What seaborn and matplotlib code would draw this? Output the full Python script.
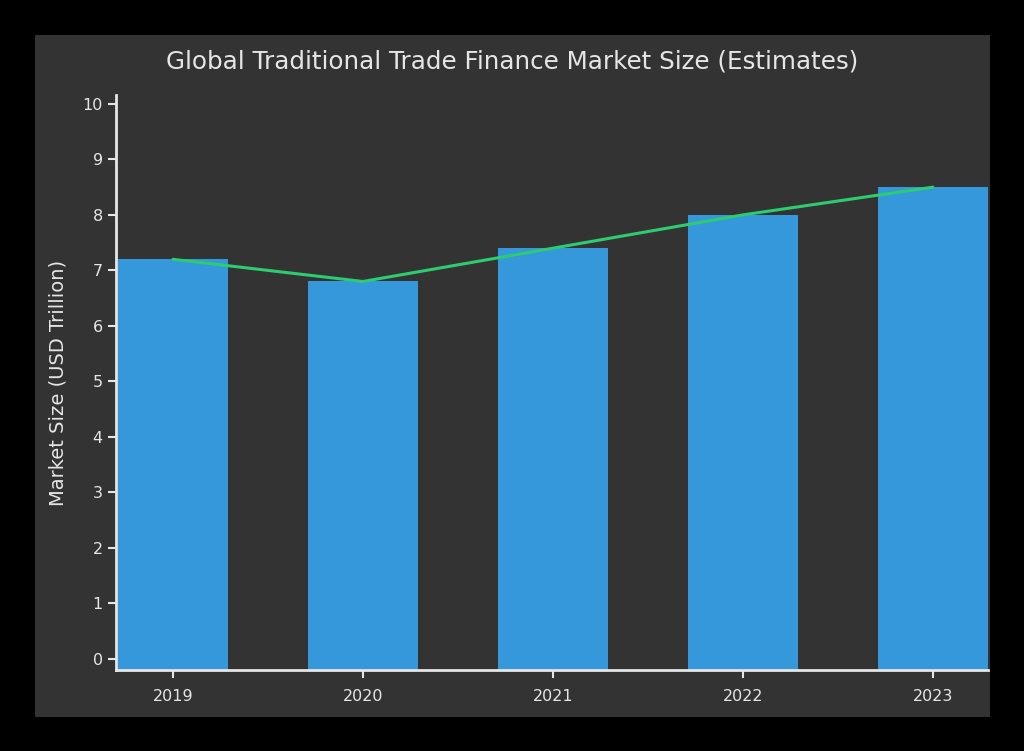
import matplotlib
matplotlib.use("Agg")
import matplotlib.pyplot as plt
import seaborn as sns
import pandas as pd

years = ["2019", "2020", "2021", "2022", "2023"]
market_size = [7.2, 6.8, 7.4, 8.0, 8.5]

df = pd.DataFrame({"year": years, "size": market_size})

sns.set_style("dark")
plt.rcParams['font.family'] = ['DejaVu Sans']
txt = "#e6e6e6"

fig = plt.figure(figsize=(10.24, 7.51), dpi=100, facecolor="black")

# grey card behind the chart
bg = fig.add_axes([35 / 1024, 1 - 717 / 751, 955 / 1024, 682 / 751], zorder=0)
bg.set_facecolor("#333333")
bg.set_xticks([])
bg.set_yticks([])
for s in bg.spines.values():
    s.set_visible(False)

ax = fig.add_axes([116 / 1024, 1 - 670 / 751, 872 / 1024, 575 / 751], zorder=1)
ax.set_facecolor("none")

y0 = -0.2
sns.barplot(data=df, x="year", y="size", color="#3498db", saturation=1,
            width=0.58, linewidth=0, ax=ax, zorder=2)
# bars run down to the x axis line, which sits a little below zero
for p in ax.patches:
    p.set_height(p.get_height() - y0)
    p.set_y(y0)
sns.lineplot(x=list(range(len(years))), y=market_size, color="#2ecc71",
             linewidth=2.2, ax=ax, zorder=3)

ax.set_xlim(-0.3, 4.29)
ax.set_ylim(y0, 10.16)
ax.set_yticks(range(0, 11))
ax.grid(False)

for side in ["top", "right"]:
    ax.spines[side].set_visible(False)
for side in ["left", "bottom"]:
    ax.spines[side].set_color(txt)
    ax.spines[side].set_linewidth(2)

ax.tick_params(colors=txt, labelsize=11.5, length=6, width=1.5, bottom=True, left=True)
ax.tick_params(axis="x", pad=8)
ax.set_xlabel("")
ax.set_ylabel("Market Size (USD Trillion)", color=txt, fontsize=14, labelpad=11)
fig.text(0.5, 1 - 62 / 751, "Global Traditional Trade Finance Market Size (Estimates)",
         color=txt, fontsize=17.7, ha="center", va="center")

fig.savefig("out.png", dpi=100, facecolor="black")
